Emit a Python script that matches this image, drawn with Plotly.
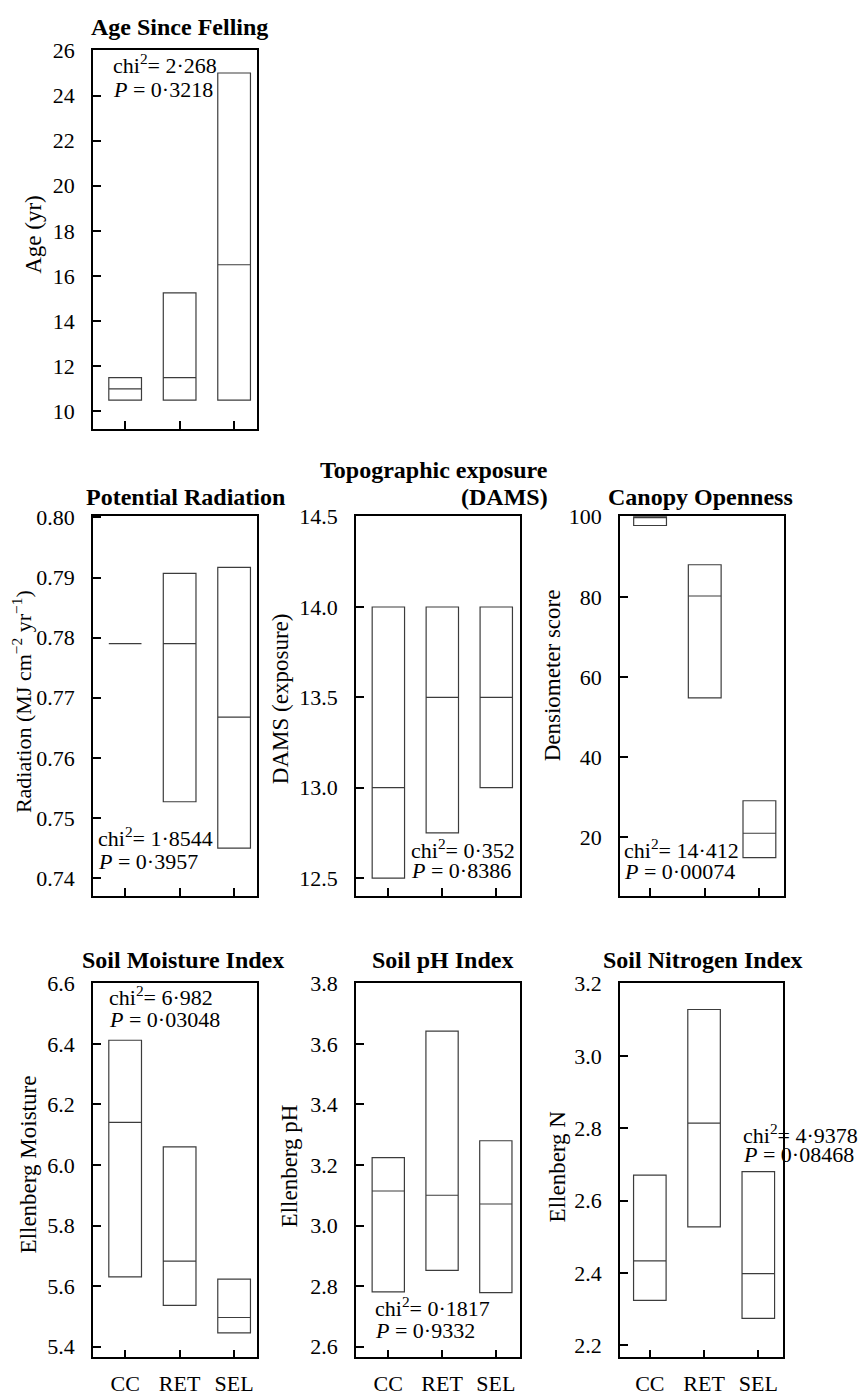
import plotly.graph_objects as go

W, H = 866, 1398
OFF = 8  # page body margin of the html page

# ---------------- data ----------------
categories = ["CC", "RET", "SEL"]

age_q1 = [10.5, 10.5, 10.5]
age_med = [11.0, 11.5, 16.5]
age_q3 = [11.5, 15.25, 25.0]

rad_q1 = [0.779, 0.7527, 0.7450]
rad_med = [0.779, 0.779, 0.7668]
rad_q3 = [0.779, 0.7907, 0.7917]

dams_q1 = [12.5, 12.75, 13.0]
dams_med = [13.0, 13.5, 13.5]
dams_q3 = [14.0, 14.0, 14.0]

canopy_q1 = [97.8, 54.8, 14.9]
canopy_med = [100.0, 80.2, 21.0]
canopy_q3 = [100.0, 88.0, 29.1]

moist_q1 = [5.630, 5.536, 5.445]
moist_med = [6.141, 5.682, 5.496]
moist_q3 = [6.412, 6.060, 5.623]

ph_q1 = [2.781, 2.852, 2.778]
ph_med = [3.114, 3.100, 3.071]
ph_q3 = [3.224, 3.642, 3.280]

n_q1 = [2.324, 2.527, 2.274]
n_med = [2.433, 2.814, 2.398]
n_q3 = [2.670, 3.128, 2.680]

age_ticks = [10, 12, 14, 16, 18, 20, 22, 24, 26]
rad_ticks = [0.74, 0.75, 0.76, 0.77, 0.78, 0.79, 0.80]
dams_ticks = [12.5, 13.0, 13.5, 14.0, 14.5]
canopy_ticks = [20, 40, 60, 80, 100]
moist_ticks = [5.4, 5.6, 5.8, 6.0, 6.2, 6.4, 6.6]
ph_ticks = [2.6, 2.8, 3.0, 3.2, 3.4, 3.6, 3.8]
n_ticks = [2.2, 2.4, 2.6, 2.8, 3.0, 3.2]

FONT = "Liberation Serif, Times New Roman, serif"


def px(x):
    return (x - OFF) / W


def py(y):
    return 1 - (y - OFF) / H


# panel specs: (q1, med, q3, xdom px, ydom px, yrange, ticks, fmt, xrange, show x labels)
panels = [
    (age_q1, age_med, age_q3, (93, 257), (38.5, 420.7), (9.24, 26.01), age_ticks, "d", (-0.59, 2.42), False),
    (rad_q1, rad_med, rad_q3, (93, 257), (509.3, 893), (0.737, 0.8002), rad_ticks, ".2f", (-0.59, 2.42), False),
    (dams_q1, dams_med, dams_q3, (356, 520), (509.3, 893), (12.40, 14.502), dams_ticks, ".1f", (-0.6, 2.44), False),
    (canopy_q1, canopy_med, canopy_q3, (620, 784), (509.3, 893), (5.3, 100.1), canopy_ticks, "d", (-0.55, 2.45), False),
    (moist_q1, moist_med, moist_q3, (93, 257), (980.5, 1359), (5.364, 6.602), moist_ticks, ".1f", (-0.59, 2.42), True),
    (ph_q1, ph_med, ph_q3, (356, 519.5), (980.5, 1359), (2.564, 3.802), ph_ticks, ".1f", (-0.6, 2.44), True),
    (n_q1, n_med, n_q3, (620, 782.7), (980.5, 1359), (2.166, 3.202), n_ticks, ".1f", (-0.55, 2.45), True),
]

fig = go.Figure()
layout_axes = {}

for i, (q1, med, q3, xd, yd, yr, ticks, fmt, xr, showx) in enumerate(panels):
    n = i + 1
    xa = "x" if n == 1 else f"x{n}"
    ya = "y" if n == 1 else f"y{n}"
    fig.add_trace(go.Box(
        x=[0, 1, 2], q1=q1, median=med, q3=q3,
        lowerfence=q1, upperfence=q3,
        width=0.6, whiskerwidth=0,
        boxpoints=False,
        fillcolor="rgba(255,255,255,0)",
        line=dict(color="#3c3c3c", width=1.2),
        xaxis=xa, yaxis=ya, showlegend=False, hoverinfo="skip",
    ))
    xkey = "xaxis" if n == 1 else f"xaxis{n}"
    ykey = "yaxis" if n == 1 else f"yaxis{n}"
    layout_axes[xkey] = dict(
        domain=[px(xd[0]), px(xd[1])], anchor=ya,
        range=list(xr), tickvals=[0, 1, 2], ticktext=categories,
        showticklabels=showx, ticks="inside", ticklen=8, tickwidth=2, tickcolor="black",
        showline=True, linecolor="black", linewidth=1.5, mirror=True,
        showgrid=False, zeroline=False, fixedrange=True,
        tickfont=dict(family=FONT, size=22, color="black"),
        ticklabelstandoff=5,
    )
    layout_axes[ykey] = dict(
        domain=[py(yd[1]), py(yd[0])], anchor=xa,
        range=list(yr), tickvals=ticks, tickformat=fmt,
        ticks="inside", ticklen=8, tickwidth=2, tickcolor="black",
        showline=True, linecolor="black", linewidth=1.5, mirror=True,
        showgrid=False, zeroline=False, fixedrange=True,
        tickfont=dict(family=FONT, size=22, color="black"),
        ticklabelstandoff=12,
    )

annotations = []

# panel titles
titles = [
    ("Age Since Felling", 179, 15, "center"),
    ("Potential Radiation", 185.8, 490, "center"),
    ("Topographic exposure", 550, 463, "right"),
    ("(DAMS)", 550, 490, "right"),
    ("Canopy Openness", 700, 490, "center"),
    ("Soil Moisture Index", 182.5, 958, "center"),
    ("Soil pH Index", 442.5, 958, "center"),
    ("Soil Nitrogen Index", 703.3, 958, "center"),
]
for t, x, y, anc in titles:
    annotations.append(dict(
        text=f"<b>{t}</b>", x=px(x), y=py(y), xref="paper", yref="paper",
        xanchor=anc, yanchor="middle", showarrow=False,
        font=dict(family=FONT, size=24, color="black"),
    ))

# y-axis titles
ytitles = [
    ("Age (yr)", 34, 225, 23),
    ("Radiation (MJ cm<sup>−2</sup> yr<sup>−1</sup>)", 22, 697, 22),
    ("DAMS (exposure)", 280, 694, 23),
    ("Densiometer score", 552, 670, 23),
    ("Ellenberg Moisture", 28, 1164, 23),
    ("Ellenberg pH", 289, 1166, 23),
    ("Ellenberg N", 557, 1166, 23),
]
for t, x, y, fs in ytitles:
    annotations.append(dict(
        text=t, x=px(x), y=py(y), xref="paper", yref="paper",
        xanchor="center", yanchor="middle", textangle=-90, showarrow=False,
        font=dict(family=FONT, size=fs, color="black"),
    ))

# statistics
stats = [
    ("2·268", "0·3218", 111, 52.5, 78),
    ("1·8544", "0·3957", 96, 833.7, 857.7),
    ("0·352", "0·8386", 408.5, 845, 867),
    ("14·412", "0·00074", 621.5, 845, 868),
    ("6·982", "0·03048", 106.7, 994, 1018),
    ("0·1817", "0·9332", 373.3, 1308, 1332),
    ("4·9378", "0·08468", 740.5, 1133.3, 1154),
]
for chi, p, x, ychi, yp in stats:
    annotations.append(dict(
        text=f"chi<sup>2</sup>= {chi}", x=px(x), y=py(ychi), xref="paper", yref="paper",
        xanchor="left", yanchor="middle", showarrow=False,
        font=dict(family=FONT, size=22, color="black"),
    ))
    annotations.append(dict(
        text=f"<i>P</i> = {p}", x=px(x), y=py(yp), xref="paper", yref="paper",
        xanchor="left", yanchor="middle", showarrow=False,
        font=dict(family=FONT, size=22, color="black"),
    ))

fig.update_layout(
    width=W, height=H,
    margin=dict(l=0, r=0, t=0, b=0),
    paper_bgcolor="white", plot_bgcolor="white",
    font=dict(family=FONT, size=22, color="black"),
    annotations=annotations,
    showlegend=False,
    **layout_axes,
)

fig.write_html("out.html")
